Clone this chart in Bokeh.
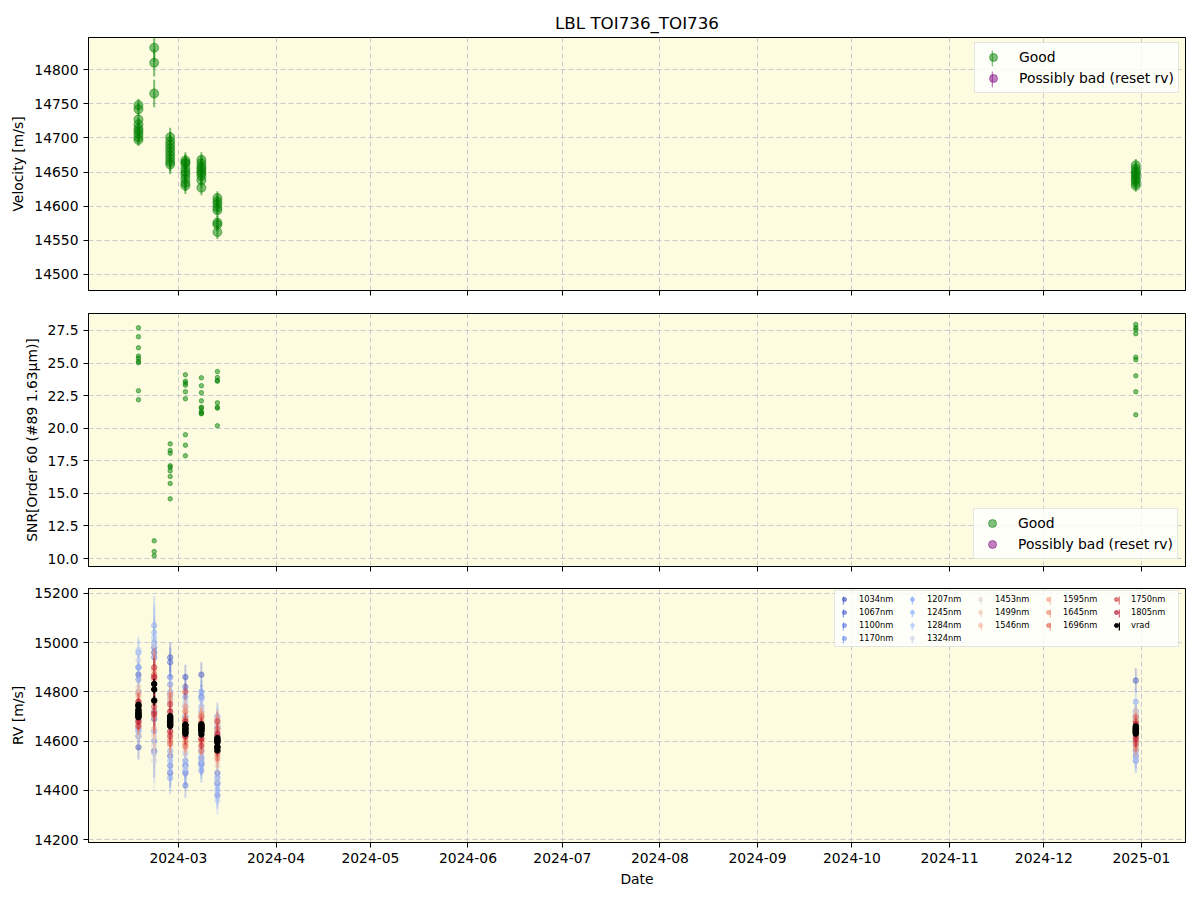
import numpy as np
import pandas as pd
from bokeh.plotting import figure
from bokeh.models import (Range1d, FixedTicker, DatetimeTickFormatter, NumeralTickFormatter,
                          Legend, LegendItem, ColumnDataSource, CustomJSTickFormatter)
from bokeh.layouts import column
from bokeh.embed import file_html
from bokeh.resources import INLINE

FONT = "DejaVu Sans"

# ---------------- data ----------------
cluster_dates = ["2024-02-17 07:00", "2024-02-22 07:00", "2024-02-27 09:00",
                 "2024-03-03 05:00", "2024-03-08 07:00", "2024-03-13 09:00",
                 "2024-12-30 05:00"]

vel_by_cluster = [
    [14748, 14742, 14727, 14720, 14714, 14710, 14706, 14701, 14697],
    [14832, 14810, 14765],
    [14701, 14695, 14690, 14685, 14680, 14675, 14670, 14665, 14661],
    [14667, 14664, 14662, 14655, 14650, 14646, 14640, 14634, 14630],
    [14668, 14663, 14658, 14655, 14651, 14648, 14644, 14638, 14627],
    [14612, 14607, 14603, 14598, 14594, 14576, 14573, 14562],
    [14660, 14655, 14651, 14648, 14645, 14641, 14638, 14634, 14630],
]
vel_err_by_cluster = [9, 20, 14, 12, 11, 10, 9]

snr_by_cluster = [
    [27.71, 27.02, 26.17, 25.53, 25.37, 25.14, 25.02, 22.87, 22.18],
    [11.36, 10.54, 10.21],
    [18.80, 18.29, 18.08, 17.12, 17.01, 16.73, 16.30, 15.76, 14.58],
    [24.10, 23.61, 23.46, 23.30, 22.80, 22.26, 19.50, 18.70, 17.88],
    [23.87, 23.26, 22.72, 22.10, 21.61, 21.54, 21.28, 21.15, 21.11],
    [24.35, 23.89, 23.66, 23.61, 21.95, 21.61, 21.54, 20.19],
    [27.96, 27.71, 27.55, 27.25, 25.45, 25.25, 24.02, 22.80, 21.03],
]

band_names = ["1034nm", "1067nm", "1100nm", "1170nm", "1207nm", "1245nm", "1284nm", "1324nm",
              "1453nm", "1499nm", "1546nm", "1595nm", "1645nm", "1696nm", "1750nm", "1805nm"]

# two values per cluster (7 clusters) for every band
band_rv = {
    "1034nm": [14575, 14870, 14690, 14960, 14470, 14940, 14860, 14500, 14870, 14510, 14430, 14620, 14846, 14600],
    "1067nm": [14620, 14800, 14980, 14560, 14920, 14540, 14820, 14470, 14560, 14780, 14470, 14650, 14700, 14560],
    "1100nm": [14900, 14650, 14940, 14720, 14860, 14500, 14420, 14700, 14530, 14720, 14380, 14660, 14690, 14540],
    "1170nm": [14850, 14640, 15000, 14600, 14830, 14560, 14780, 14520, 14800, 14480, 14450, 14700, 14520, 14720],
    "1207nm": [14960, 14680, 15070, 14640, 14800, 14450, 14740, 14480, 14740, 14500, 14400, 14620, 14760, 14580],
    "1245nm": [14900, 14660, 15040, 14720, 14780, 14520, 14700, 14500, 14770, 14540, 14420, 14680, 14620, 14700],
    "1284nm": [14970, 14700, 15020, 14550, 14760, 14480, 14760, 14550, 14700, 14520, 14360, 14640, 14530, 14680],
    "1324nm": [14930, 14640, 14990, 14521, 14790, 14560, 14720, 14490, 14730, 14560, 14440, 14700, 14560, 14720],
    "1453nm": [14820, 14620, 14900, 14580, 14740, 14600, 14700, 14560, 14720, 14580, 14500, 14660, 14600, 14710],
    "1499nm": [14800, 14660, 14870, 14620, 14760, 14580, 14720, 14570, 14700, 14600, 14520, 14670, 14580, 14690],
    "1546nm": [14780, 14680, 14860, 14650, 14720, 14610, 14680, 14600, 14690, 14590, 14540, 14640, 14620, 14680],
    "1595nm": [14790, 14700, 14890, 14700, 14770, 14630, 14740, 14590, 14710, 14610, 14560, 14690, 14660, 14600],
    "1645nm": [14760, 14670, 14850, 14720, 14790, 14600, 14720, 14600, 14680, 14560, 14530, 14650, 14700, 14570],
    "1696nm": [14740, 14690, 14870, 14760, 14700, 14590, 14690, 14580, 14700, 14600, 14550, 14620, 14680, 14620],
    "1750nm": [14730, 14660, 14900, 14740, 14750, 14620, 14800, 14620, 14670, 14580, 14560, 14680, 14640, 14590],
    "1805nm": [14760, 14680, 14860, 14710, 14720, 14640, 14680, 14620, 14660, 14610, 14580, 14630, 14670, 14610],
}

# error (per cluster) for groups of bands
err_blue = [50, 110, 60, 50, 50, 55, 50]
err_lightblue = [55, 120, 65, 55, 55, 60, 55]
err_mid = [45, 100, 55, 45, 45, 50, 45]
err_red = [35, 80, 45, 35, 35, 40, 35]
band_err_group = [err_blue] * 4 + [err_lightblue] * 4 + [err_mid] * 3 + [err_red] * 5

month_ticks = ["2024-03-01", "2024-04-01", "2024-05-01", "2024-06-01", "2024-07-01", "2024-08-01",
               "2024-09-01", "2024-10-01", "2024-11-01", "2024-12-01", "2025-01-01"]

vel_ticks = [14500, 14550, 14600, 14650, 14700, 14750, 14800]
snr_ticks = [10.0, 12.5, 15.0, 17.5, 20.0, 22.5, 25.0, 27.5]
rv_ticks = [14200, 14400, 14600, 14800, 15000, 15200]


# ---------------- helpers ----------------
def ms(t):
    return pd.Timestamp(t).value / 1e6


OFF_X = [ms("2020-01-01")]   # off-screen point used only for legend glyphs
OFF_Y = [0]

# coolwarm approximation key points
CW = [(0.0, (59, 76, 192)), (0.125, (85, 114, 227)), (0.25, (123, 159, 249)),
      (0.375, (158, 190, 255)), (0.5, (221, 221, 221)), (0.625, (245, 196, 173)),
      (0.75, (244, 154, 123)), (0.875, (222, 96, 77)), (1.0, (180, 4, 38))]


def coolwarm(f):
    for (a, ca), (b, cb) in zip(CW[:-1], CW[1:]):
        if a <= f <= b:
            t = (f - a) / (b - a)
            c = [int(round(ca[k] + (cb[k] - ca[k]) * t)) for k in range(3)]
            return "#%02x%02x%02x" % tuple(c)
    return "#b40426"


def style(p):
    p.background_fill_color = "#fdfce1"
    p.border_fill_color = "white"
    p.outline_line_color = "black"
    p.outline_line_alpha = 1.0
    p.outline_line_width = 1
    for ax in p.axis:
        ax.axis_line_color = "black"
        ax.major_tick_out = 5
        ax.major_tick_in = 0
        ax.minor_tick_out = 0
        ax.minor_tick_in = 0
        ax.major_tick_line_color = "black"
        ax.major_label_text_font = FONT
        ax.major_label_text_color = "black"
        ax.axis_label_text_font = FONT
        ax.axis_label_text_font_size = "13.9px"
        ax.axis_label_text_font_style = "normal"
        ax.axis_label_text_color = "black"
    for g in p.grid:
        g.grid_line_color = "#c4c4cc"
        g.grid_line_dash = "5 3"
        g.grid_line_width = 1
        g.grid_line_alpha = 0.9


x_range = Range1d(start=ms("2024-02-01 10:00"), end=ms("2025-01-15 00:00"))
xticker = FixedTicker(ticks=[ms(t) for t in month_ticks])
fmt = "%Y-%m"
xformatter = DatetimeTickFormatter(milliseconds=fmt, seconds=fmt, minsec=fmt, minutes=fmt,
                                   hourmin=fmt, hours=fmt, days=fmt, months=fmt, years=fmt)

# flatten good data
xs_all, vel_all, err_all, snr_all = [], [], [], []
for c, d in enumerate(cluster_dates):
    for v in vel_by_cluster[c]:
        xs_all.append(ms(d))
        vel_all.append(v)
        err_all.append(vel_err_by_cluster[c])
    for s in snr_by_cluster[c]:
        snr_all.append(s)

vsrc = ColumnDataSource(dict(x=xs_all, y=vel_all,
                             lo=[v - e for v, e in zip(vel_all, err_all)],
                             hi=[v + e for v, e in zip(vel_all, err_all)]))
ssrc = ColumnDataSource(dict(x=xs_all, y=snr_all))


def make_fig(height, top, bottom, yr, show_xlabels):
    p = figure(width=1200, height=height, x_axis_type="datetime", x_range=x_range, y_range=yr,
               output_backend="svg", toolbar_location=None,
               min_border_left=88, min_border_right=15, min_border_top=top, min_border_bottom=bottom)
    p.xaxis.ticker = xticker
    p.yaxis.major_label_text_font_size = "13.9px"
    if show_xlabels:
        p.xaxis.formatter = xformatter
        p.xaxis.major_label_text_font_size = "13.9px"
    else:
        p.xaxis.formatter = CustomJSTickFormatter(code="return ''")
        p.xaxis.major_label_text_font_size = "1px"
        p.xaxis.major_label_standoff = 0
    return p


def style_legend(lg, size):
    lg.label_text_font = FONT
    lg.label_text_font_size = size
    lg.label_text_color = "black"
    lg.border_line_color = "#cccccc"
    lg.border_line_width = 1
    lg.background_fill_color = "white"
    lg.background_fill_alpha = 0.8


def bar_dummy(p, col, alpha):
    # legend-only vertical error-bar stroke (narrow box), its data sits off-screen
    return p.vbar(x=OFF_X, top=[1], bottom=[0], width=1, fill_color=col, fill_alpha=alpha, line_alpha=0)


def overlay_legend(items, loc, pad, gw, gh, standoff, spacing, label_width=20, ncols="auto"):
    lg = Legend(items=items, location=loc, padding=pad, glyph_width=gw, glyph_height=gh,
                label_height=gh, label_standoff=standoff, spacing=spacing, label_width=label_width,
                margin=0, border_line_alpha=0, background_fill_alpha=0, label_text_alpha=0,
                label_text_font=FONT)
    if ncols != "auto":
        lg.ncols = ncols
    return lg


# ---------------- top panel ----------------
p1 = make_fig(300, 37, 10, Range1d(14476.5, 14847), False)
p1.title.text = "LBL TOI736_TOI736"
p1.title.align = "center"
p1.title.text_font = FONT
p1.title.text_font_size = "16.7px"
p1.title.text_font_style = "normal"
p1.title.text_color = "black"
p1.segment(x0="x", y0="lo", x1="x", y1="hi", source=vsrc, line_color="green", line_alpha=0.5, line_width=2)
p1.scatter(x="x", y="y", source=vsrc, size=9, fill_color="green", fill_alpha=0.5,
           line_color="green", line_alpha=0.5)
p1.yaxis.ticker = FixedTicker(ticks=vel_ticks)
p1.yaxis.axis_label = "Velocity [m/s]"

leg_items, bar_items = [], []
for lab, col in [("Good", "green"), ("Possibly bad (reset rv)", "purple")]:
    c = p1.scatter(x=OFF_X, y=OFF_Y, size=9, fill_color=col, fill_alpha=0.5, line_color=col, line_alpha=0.5)
    leg_items.append(LegendItem(label=lab, renderers=[c]))
    bar_items.append(LegendItem(label=" ", renderers=[bar_dummy(p1, col, 0.5)]))
# frame is 1097 x 253 px; legend box 204 x 49 px, 7 px from the top-right corner
leg1 = Legend(items=leg_items, location=(886, 197))
style_legend(leg1, "13.9px")
leg1.padding = 4
leg1.spacing = 1
leg1.glyph_height = 20
leg1.label_height = 20
leg1.glyph_width = 28
leg1.label_standoff = 12
p1.add_layout(leg1)
p1.add_layout(overlay_legend(bar_items, (886, 184), 17, 2, 20, 12, 1))

# ---------------- middle panel ----------------
p2 = make_fig(277, 13, 11, Range1d(9.39, 28.80), False)
p2.scatter(x="x", y="y", source=ssrc, size=4.5, fill_color="green", fill_alpha=0.5,
           line_color="green", line_alpha=0.5)
p2.yaxis.ticker = FixedTicker(ticks=snr_ticks)
p2.yaxis.formatter = NumeralTickFormatter(format="0.0")
p2.yaxis.axis_label = "SNR[Order 60 (#89 1.63μm)]"
leg_items2 = []
for lab, col in [("Good", "green"), ("Possibly bad (reset rv)", "purple")]:
    c = p2.scatter(x=OFF_X, y=OFF_Y, size=4.5, fill_color=col, fill_alpha=0.5, line_color=col, line_alpha=0.5)
    leg_items2.append(LegendItem(label=lab, renderers=[c]))
leg2 = Legend(items=leg_items2, location="bottom_right")
style_legend(leg2, "13.9px")
leg2.margin = 7
leg2.padding = 4
leg2.spacing = 1
leg2.glyph_height = 20
leg2.label_height = 20
leg2.glyph_width = 28
leg2.label_standoff = 12
p2.add_layout(leg2)

# ---------------- bottom panel ----------------
p3 = make_fig(323, 11, 58, Range1d(14188, 15220), True)
band_items, band_bars = [], []
nb = len(band_names)
for i, name in enumerate(band_names):
    col = coolwarm(i / (nb - 1))
    xs, ys, lo, hi = [], [], [], []
    vals = band_rv[name]
    errs = band_err_group[i]
    for c, d in enumerate(cluster_dates):
        for k in range(2):
            v = vals[2 * c + k]
            xs.append(ms(d))
            ys.append(v)
            lo.append(v - errs[c])
            hi.append(v + errs[c])
    src = ColumnDataSource(dict(x=xs, y=ys, lo=lo, hi=hi))
    p3.segment(x0="x", y0="lo", x1="x", y1="hi", source=src, line_color=col, line_alpha=0.3, line_width=2)
    p3.scatter(x="x", y="y", source=src, size=5.5, fill_color=col, fill_alpha=0.42,
               line_color=col, line_alpha=0.42)
    cc = p3.scatter(x=OFF_X, y=OFF_Y, size=4.5, fill_color=col, fill_alpha=0.6, line_color=col, line_alpha=0.6)
    band_items.append(LegendItem(label=name, renderers=[cc]))
    band_bars.append(LegendItem(label=" ", renderers=[bar_dummy(p3, col, 0.6)]))

p3.segment(x0="x", y0="lo", x1="x", y1="hi", source=vsrc, line_color="black", line_width=1.5)
p3.scatter(x="x", y="y", source=vsrc, size=5.5, fill_color="black", line_color="black")
cc = p3.scatter(x=OFF_X, y=OFF_Y, size=5, fill_color="black", line_color="black")
vrad_item = LegendItem(label="vrad", renderers=[cc])
vrad_bar = LegendItem(label=" ", renderers=[bar_dummy(p3, "black", 1.0)])

blank_r = p3.scatter(x=OFF_X, y=OFF_Y, size=1, fill_alpha=0, line_alpha=0)


def blank():
    return LegendItem(label=" ", renderers=[blank_r])


def column_major(items, extra, bl):
    # 4 rows: 4,4,3,3,3 entries per column
    return (items[0:4] + items[4:8] + items[8:11] + [bl()] +
            items[11:14] + [bl()] + items[14:16] + [extra, bl()])


p3.yaxis.ticker = FixedTicker(ticks=rv_ticks)
p3.yaxis.axis_label = "RV [m/s]"
p3.xaxis.axis_label = "Date"
# frame is 1097 x 254 px; legend box 347 x 55 px, 4 px from the top-right corner
leg3 = Legend(items=column_major(band_items, vrad_item, blank), location=(746, 195), ncols=5)
style_legend(leg3, "8.3px")
leg3.padding = 3
leg3.spacing = 3
leg3.glyph_height = 10
leg3.label_height = 10
leg3.glyph_width = 12
leg3.label_standoff = 9
leg3.label_width = 44
p3.add_layout(leg3)
p3.add_layout(overlay_legend(column_major(band_bars, vrad_bar, blank), (746, 190), 8, 2, 10, 20, 3,
                             label_width=44, ncols=5))

for p in (p1, p2, p3):
    style(p)

layout = column(p1, p2, p3)
open("out.html", "w").write(file_html(layout, INLINE))
